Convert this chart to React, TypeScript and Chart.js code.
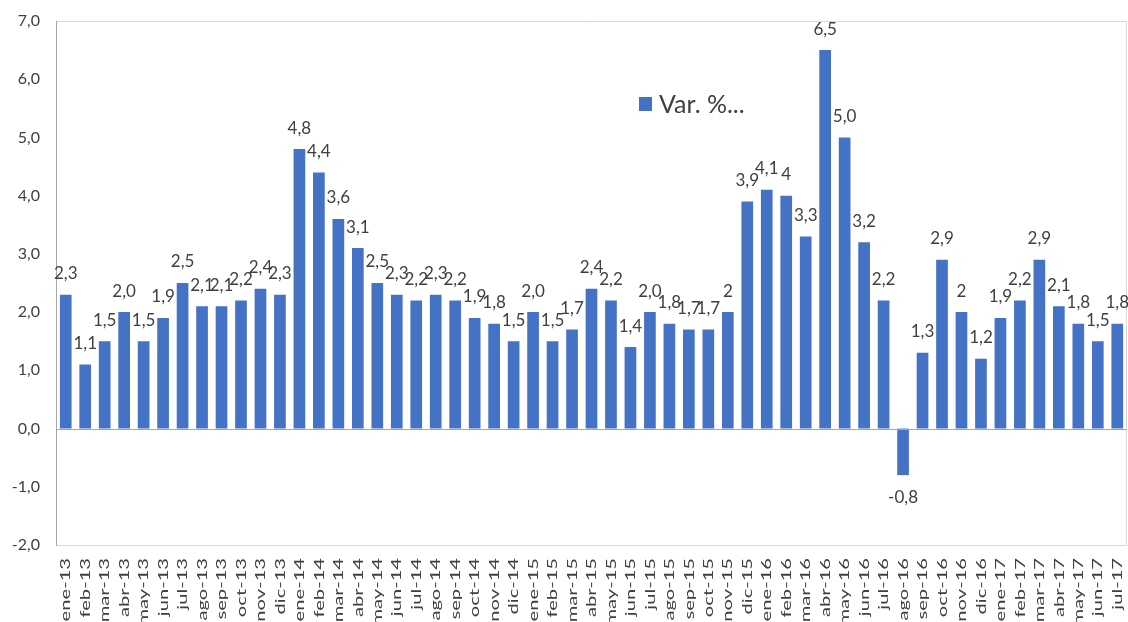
import React, { useEffect, useRef } from "react";
import { Chart, registerables } from "chart.js";

Chart.register(...registerables);

const categories = [
  "ene-13","feb-13","mar-13","abr-13","may-13","jun-13","jul-13","ago-13","sep-13","oct-13","nov-13","dic-13",
  "ene-14","feb-14","mar-14","abr-14","may-14","jun-14","jul-14","ago-14","sep-14","oct-14","nov-14","dic-14",
  "ene-15","feb-15","mar-15","abr-15","may-15","jun-15","jul-15","ago-15","sep-15","oct-15","nov-15","dic-15",
  "ene-16","feb-16","mar-16","abr-16","may-16","jun-16","jul-16","ago-16","sep-16","oct-16","nov-16","dic-16",
  "ene-17","feb-17","mar-17","abr-17","may-17","jun-17","jul-17",
];

const values = [
  2.3, 1.1, 1.5, 2.0, 1.5, 1.9, 2.5, 2.1, 2.1, 2.2, 2.4, 2.3,
  4.8, 4.4, 3.6, 3.1, 2.5, 2.3, 2.2, 2.3, 2.2, 1.9, 1.8, 1.5,
  2.0, 1.5, 1.7, 2.4, 2.2, 1.4, 2.0, 1.8, 1.7, 1.7, 2.0, 3.9,
  4.1, 4.0, 3.3, 6.5, 5.0, 3.2, 2.2, -0.8, 1.3, 2.9, 2.0, 1.2,
  1.9, 2.2, 2.9, 2.1, 1.8, 1.5, 1.8,
];

const valueLabels = [
  "2,3","1,1","1,5","2,0","1,5","1,9","2,5","2,1","2,1","2,2","2,4","2,3",
  "4,8","4,4","3,6","3,1","2,5","2,3","2,2","2,3","2,2","1,9","1,8","1,5",
  "2,0","1,5","1,7","2,4","2,2","1,4","2,0","1,8","1,7","1,7","2","3,9",
  "4,1","4","3,3","6,5","5,0","3,2","2,2","-0,8","1,3","2,9","2","1,2",
  "1,9","2,2","2,9","2,1","1,8","1,5","1,8",
];

const seriesName = "Var. %...";
const yTicksMin = -2;
const yTicksMax = 7;

const BAR_COLOR = "#4472C4";
const FONT = "Lato, 'Open Sans', sans-serif";

const decorPlugin = {
  id: "decor",
  afterDatasetsDraw(chart: any) {
    const { ctx, chartArea, scales } = chart;
    const y = scales.y;
    const x = scales.x;
    ctx.save();
    // frame top & right & bottom
    ctx.strokeStyle = "#d9d9d9";
    ctx.lineWidth = 1;
    ctx.beginPath();
    ctx.moveTo(chartArea.left, Math.round(chartArea.top) + 0.5);
    ctx.lineTo(Math.round(chartArea.right) - 0.5, Math.round(chartArea.top) + 0.5);
    ctx.lineTo(Math.round(chartArea.right) - 0.5, chartArea.bottom);
    ctx.stroke();
    ctx.beginPath();
    ctx.moveTo(chartArea.left, Math.round(chartArea.bottom) + 0.5);
    ctx.lineTo(chartArea.right, Math.round(chartArea.bottom) + 0.5);
    ctx.stroke();
    // zero line
    const y0 = Math.round(y.getPixelForValue(0)) + 0.5;
    ctx.strokeStyle = "#a6a6a6";
    ctx.beginPath();
    ctx.moveTo(chartArea.left, y0);
    ctx.lineTo(chartArea.right, y0);
    ctx.stroke();
    // left axis
    ctx.beginPath();
    ctx.moveTo(Math.round(chartArea.left) + 0.5, chartArea.top);
    ctx.lineTo(Math.round(chartArea.left) + 0.5, chartArea.bottom + 1);
    ctx.stroke();

    // data labels
    const meta = chart.getDatasetMeta(0);
    ctx.fillStyle = "#404040";
    ctx.font = `17px ${FONT}`;
    ctx.textAlign = "center";
    ctx.textBaseline = "middle";
    meta.data.forEach((bar: any, i: number) => {
      const v = values[i];
      const yy = v >= 0 ? bar.y - 21 : bar.y + 22;
      ctx.fillText(valueLabels[i], bar.x, yy);
    });

    // x category labels (rotated, stretched along the text like the reference)
    ctx.fillStyle = "#404040";
    ctx.font = `13px ${FONT}`;
    ctx.textAlign = "right";
    ctx.textBaseline = "middle";
    categories.forEach((c, i) => {
      const px = x.getPixelForValue(i);
      ctx.save();
      ctx.translate(px + 0.5, chartArea.bottom + 13);
      ctx.rotate(-Math.PI / 2);
      ctx.scale(1.55, 1);
      ctx.fillText(c, 0, 0);
      ctx.restore();
    });

    // legend
    const lx = 639;
    const ly = 104;
    ctx.fillStyle = BAR_COLOR;
    ctx.fillRect(lx, ly - 7, 13, 14);
    ctx.fillStyle = "#404040";
    ctx.font = `25px ${FONT}`;
    ctx.textAlign = "left";
    ctx.textBaseline = "middle";
    ctx.fillText(seriesName, lx + 20, ly + 1);
    ctx.restore();
  },
};

export default function App() {
  const canvasRef = useRef<HTMLCanvasElement | null>(null);

  useEffect(() => {
    if (!canvasRef.current) return;
    const chart = new Chart(canvasRef.current, {
      type: "bar",
      data: {
        labels: categories,
        datasets: [
          {
            label: seriesName,
            data: values,
            backgroundColor: BAR_COLOR,
            barPercentage: 0.6,
            categoryPercentage: 1.0,
          },
        ],
      },
      options: {
        animation: false,
        responsive: false,
        maintainAspectRatio: false,
        layout: { padding: { top: 21, right: 1, left: 0, bottom: 0 } },
        plugins: {
          legend: { display: false },
          tooltip: { enabled: false },
        },
        scales: {
          x: {
            grid: { display: false, drawTicks: false },
            border: { display: false },
            ticks: { display: false },
            afterFit: (scale: any) => {
              scale.height = 77;
              scale.paddingLeft = 0;
              scale.paddingRight = 0;
            },
          },
          y: {
            min: yTicksMin,
            max: yTicksMax,
            grid: { display: false },
            border: { display: false },
            ticks: {
              stepSize: 1,
              color: "#404040",
              padding: 8,
              font: { family: FONT, size: 16 },
              callback: (v: any) => Number(v).toFixed(1).replace(".", ","),
            },
            afterFit: (scale: any) => {
              scale.width = 56;
              scale.paddingTop = 0;
              scale.paddingBottom = 0;
            },
          },
        },
      },
      plugins: [decorPlugin],
    });
    return () => chart.destroy();
  }, []);

  return (
    <div style={{ position: "fixed", left: 0, top: 0, width: 1128, height: 622, background: "#fff" }}>
      <canvas ref={canvasRef} width={1128} height={622} style={{ display: "block" }} />
    </div>
  );
}
